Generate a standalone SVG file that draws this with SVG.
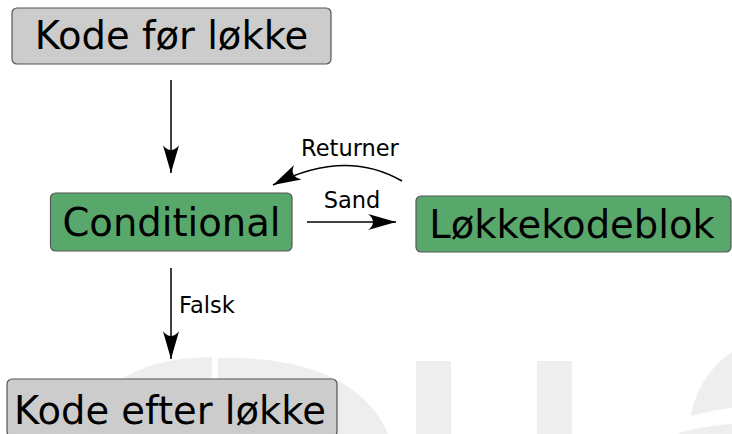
<svg xmlns="http://www.w3.org/2000/svg" width="732" height="434" viewBox="0 0 732 434">
  <defs>
    <style>
      .box { stroke: #555555; stroke-width: 1.2; }
      .grey { fill: #cccccc; }
      .green { fill: #59a86b; }
      .big { font-family: "DejaVu Sans", Verdana, sans-serif; font-size: 38.5px; fill: #000000; text-anchor: middle; }
      .lbl { font-family: "DejaVu Sans", Verdana, sans-serif; font-size: 22.5px; fill: #000000; }
      .edge { fill: none; stroke: #000000; stroke-width: 1.5; }
      .wm { fill: #eeeeee; }
    </style>
    <marker id="arr" markerUnits="userSpaceOnUse" markerWidth="30" markerHeight="20" viewBox="-27 -9 28 18" refX="0" refY="0" orient="auto">
      <path d="M0,0 L-26,-7.5 C-20,-3 -20,3 -26,7.5 Z" fill="#000000"/>
    </marker>
  </defs>

  <g id="watermark">
    <path class="wm" d="M88,434 C92,392 130,358 212,357 L212,434 Z"/>
    <path class="wm" d="M218,358 L240,358 C320,360 370,390 388,434 L218,434 Z"/>
    <rect class="wm" x="416" y="361" width="35" height="73"/>
    <rect class="wm" x="537" y="361" width="35" height="73"/>
    <path class="wm" d="M691,416 C695,390 712,365 732,352 L732,408 C715,410 700,413 691,416 Z"/>
    <path class="wm" d="M676,434 C695,428 715,425 732,424 L732,434 Z"/>
  </g>

  <g id="connectors">
    <path class="edge" d="M171,80 L171,173" marker-end="url(#arr)"/>
    <path class="edge" d="M307,222 L396,222" marker-end="url(#arr)"/>
    <path class="edge" d="M402,181 Q345,148 273,185" marker-end="url(#arr)"/>
    <path class="edge" d="M171,268 L171,359" marker-end="url(#arr)"/>
    <text class="lbl" x="350" y="156" text-anchor="middle">Returner</text>
    <text class="lbl" x="352" y="208" text-anchor="middle">Sand</text>
    <text class="lbl" x="179" y="313">Falsk</text>
  </g>

  <g id="node-kode-foer">
    <rect class="box grey" x="12" y="8" width="319" height="56" rx="5"/>
    <text class="big" x="171.5" y="48.5">Kode før løkke</text>
  </g>

  <g id="node-conditional">
    <rect class="box green" x="50.5" y="193" width="241.5" height="58" rx="5"/>
    <text class="big" x="171.5" y="235.5">Conditional</text>
  </g>

  <g id="node-loekkekodeblok">
    <rect class="box green" x="416" y="196" width="315" height="56" rx="5"/>
    <text class="big" x="572" y="238">Løkkekodeblok</text>
  </g>

  <g id="node-kode-efter">
    <rect class="box grey" x="7" y="379" width="330" height="58" rx="5"/>
    <text class="big" x="170" y="424">Kode efter løkke</text>
  </g>
</svg>
